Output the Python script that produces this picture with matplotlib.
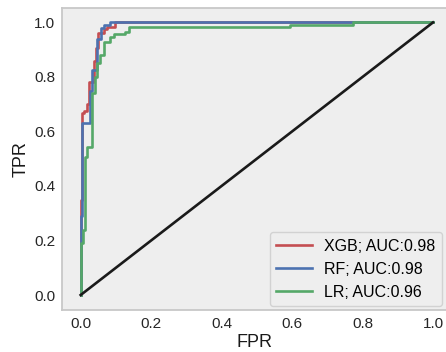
import numpy as np
import matplotlib
matplotlib.use("Agg")
import matplotlib.pyplot as plt

# ROC curve points
xgb_fpr = [0, 0, 0.004, 0.004, 0.01, 0.01, 0.018, 0.018, 0.025, 0.025, 0.037, 0.037,
           0.043, 0.043, 0.05, 0.05, 0.065, 0.065, 0.075, 0.075, 0.098, 0.098, 1.0]
xgb_tpr = [0, 0.35, 0.35, 0.667, 0.667, 0.675, 0.675, 0.70, 0.70, 0.78, 0.78, 0.86,
           0.86, 0.905, 0.905, 0.96, 0.96, 0.975, 0.975, 0.985, 0.985, 1.0, 1.0]

rf_fpr = [0, 0, 0.004, 0.004, 0.027, 0.027, 0.032, 0.032, 0.046, 0.046,
          0.057, 0.057, 0.066, 0.066, 0.084, 0.084, 1.0]
rf_tpr = [0, 0.29, 0.29, 0.63, 0.63, 0.75, 0.75, 0.824, 0.824, 0.94,
          0.94, 0.978, 0.978, 0.99, 0.99, 1.0, 1.0]

lr_fpr = [0, 0, 0.007, 0.007, 0.012, 0.012, 0.018, 0.018, 0.032, 0.032, 0.041, 0.041,
          0.046, 0.046, 0.055, 0.055, 0.065, 0.065, 0.084, 0.084, 0.094, 0.094,
          0.127, 0.127, 0.136, 0.136, 0.594, 0.594, 0.774, 0.774, 1.0]
lr_tpr = [0, 0.19, 0.19, 0.24, 0.24, 0.507, 0.507, 0.543, 0.543, 0.74, 0.74, 0.80,
          0.80, 0.85, 0.85, 0.88, 0.88, 0.928, 0.928, 0.945, 0.945, 0.958,
          0.958, 0.966, 0.966, 0.984, 0.984, 0.991, 0.991, 1.0, 1.0]

labels = ["XGB; AUC:0.98", "RF; AUC:0.98", "LR; AUC:0.96"]
colors = ["#C44E52", "#4C72B0", "#55A868"]

plt.rcParams['font.family'] = ['Liberation Sans', 'DejaVu Sans']

fig = plt.figure(figsize=(4.46, 3.52), dpi=100)
ax = fig.add_axes([62 / 446, 42 / 352, 384 / 446, 302 / 352])
ax.set_facecolor("#EEEEEE")

curves = [(xgb_fpr, xgb_tpr), (rf_fpr, rf_tpr), (lr_fpr, lr_tpr)]
for (fpr, tpr), lab, c in zip(curves, labels, colors):
    ax.plot(fpr, tpr, color=c, lw=1.9, label=lab)
ax.plot([0, 1], [0, 1], color="#1a1a1a", lw=1.9)

ax.set_xlim(-0.053, 1.037)
ax.set_ylim(-0.055, 1.053)
ax.set_xticks(np.arange(0, 1.01, 0.2))
ax.set_yticks(np.arange(0, 1.01, 0.2))
ax.set_xlabel("FPR", fontsize=13, color="#1a1a1a", labelpad=2)
ax.set_ylabel("TPR", fontsize=13, color="#1a1a1a", labelpad=3)
ax.tick_params(labelsize=11, length=0, pad=5, colors="#262626")

for side in ["left", "bottom", "top"]:
    ax.spines[side].set_color("#C8C8C8")
    ax.spines[side].set_linewidth(1.3)
ax.spines["right"].set_visible(False)

leg = ax.legend(loc="lower right", fontsize=11.5, frameon=True, fancybox=True,
                borderaxespad=0.25, handlelength=2.2)
leg.get_frame().set_facecolor("#EEEEEE")
leg.get_frame().set_edgecolor("#CCCCCC")

fig.savefig("out.png", dpi=100)
